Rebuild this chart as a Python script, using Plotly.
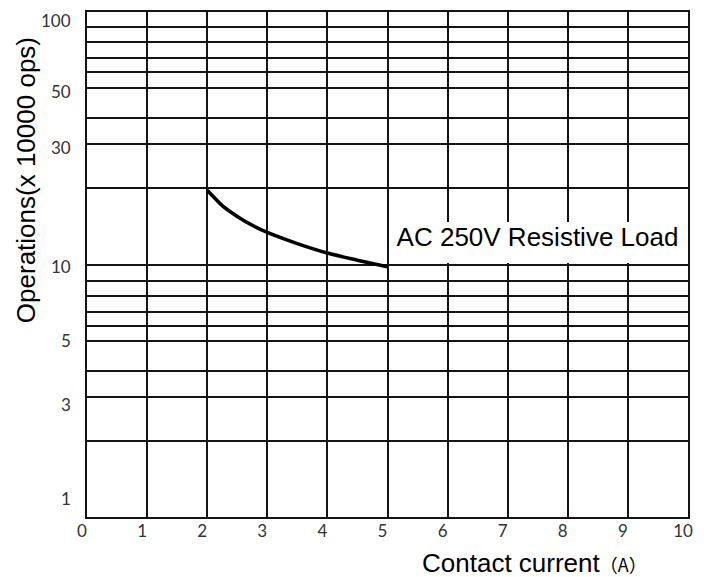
import math
import plotly.graph_objects as go

# ---- data ----
current_a = [2.0, 2.1, 2.25, 2.5, 2.75, 3.0, 3.5, 4.0, 4.5, 5.0]
operations_x1e4 = [19.7, 18.6, 17.1, 15.5, 14.3, 13.4, 12.1, 11.1, 10.4, 9.8]

x_ticks = [0, 1, 2, 3, 4, 5, 6, 7, 8, 9, 10]
x_tick_labels = ["0", "1", "2", "3", "4", "5", "6", "7", "8", "9", "10"]
y_ticks = [1, 3, 5, 10, 30, 50, 100]
y_tick_labels = ["1", "3", "5", "10", "30", "50", "100"]
# unlabelled horizontal grid lines, as drawn in the picture
y_minor_grid = [2, 3.8, 5.7, 6.5, 7.5, 8.6, 20, 38, 58, 66, 76, 87]

series_label = "AC 250V Resistive Load"
label_base = 10  # the label box sits on this grid line, right of the curve end
x_title = "Contact current"
x_unit = "（A）"
y_title = "Operations(x 10000 ops)"

# ---- styling ----
GRID = "#141414"
TICKFONT = dict(family="Lato, Noto Sans, sans-serif", size=17, color="#333333")
TITLEFONT = dict(family="Liberation Sans, Arial, sans-serif", size=26, color="#000000")
# small vertical nudges (px) of the y tick labels, as placed in the original
y_label_nudge = [19, -8, 0, -2, -3, -3, -8]

fig = go.Figure()
fig.add_trace(go.Scatter(
    x=current_a, y=operations_x1e4, mode="lines",
    line=dict(color="#000000", width=3.6, shape="spline", smoothing=1.0),
    showlegend=False, hoverinfo="skip",
))

# the page body adds an 8px margin, so the figure is 8px smaller than the window
fig.update_layout(
    width=696, height=569,
    margin=dict(l=79, r=16, t=4, b=60, autoexpand=False),
    paper_bgcolor="#ffffff", plot_bgcolor="#ffffff",
    showlegend=False,
)

fig.update_xaxes(
    range=[0, 10], tickmode="array", tickvals=x_ticks, ticktext=x_tick_labels,
    showgrid=True, gridcolor=GRID, gridwidth=1.7,
    showline=True, linecolor=GRID, linewidth=1.8, mirror=True,
    zeroline=False, ticks="", tickfont=TICKFONT, automargin=False,
    ticklabelshift=-5, ticklabelstandoff=-2, ticklabeloverflow="allow",
)
fig.update_yaxes(
    type="log", range=[0, 2], tickmode="array", tickvals=y_ticks, ticktext=y_tick_labels,
    showticklabels=False,
    showgrid=True, gridcolor=GRID, gridwidth=1.7,
    minor=dict(tickmode="array", tickvals=y_minor_grid, showgrid=True,
               gridcolor=GRID, gridwidth=1.7, ticks=""),
    showline=True, linecolor=GRID, linewidth=1.8, mirror=True,
    zeroline=False, ticks="", automargin=False,
)

# y tick labels, anchored to their values on the log axis
for val, lab, nudge in zip(y_ticks, y_tick_labels, y_label_nudge):
    fig.add_annotation(
        x=0, xref="paper", y=math.log10(val), yref="y",
        xanchor="right", yanchor="middle", xshift=-14, yshift=nudge,
        text=lab, showarrow=False, font=TICKFONT,
    )

# series label box (white background hides grid lines behind it)
fig.add_annotation(
    x=current_a[-1], y=math.log10(label_base), xref="x", yref="y",
    xanchor="left", yanchor="bottom", xshift=1, yshift=2,
    width=297, height=41, valign="top", align="center",
    text=series_label, showarrow=False,
    bgcolor="#ffffff", borderpad=0, borderwidth=0,
    font=TITLEFONT,
)

# axis titles
fig.add_annotation(
    x=0, xref="paper", y=0.667, yref="paper",
    xanchor="center", yanchor="middle", xshift=-61,
    text=y_title, textangle=-90, showarrow=False, font=TITLEFONT,
)
fig.add_annotation(
    x=0.745, xref="paper", y=0, yref="paper",
    xanchor="center", yanchor="middle", yshift=-46,
    text=x_title + "<span style='font-family:Noto Sans CJK SC;font-size:18px'>" + x_unit + "</span>",
    showarrow=False, font=TITLEFONT,
)

fig.write_html("out.html")
